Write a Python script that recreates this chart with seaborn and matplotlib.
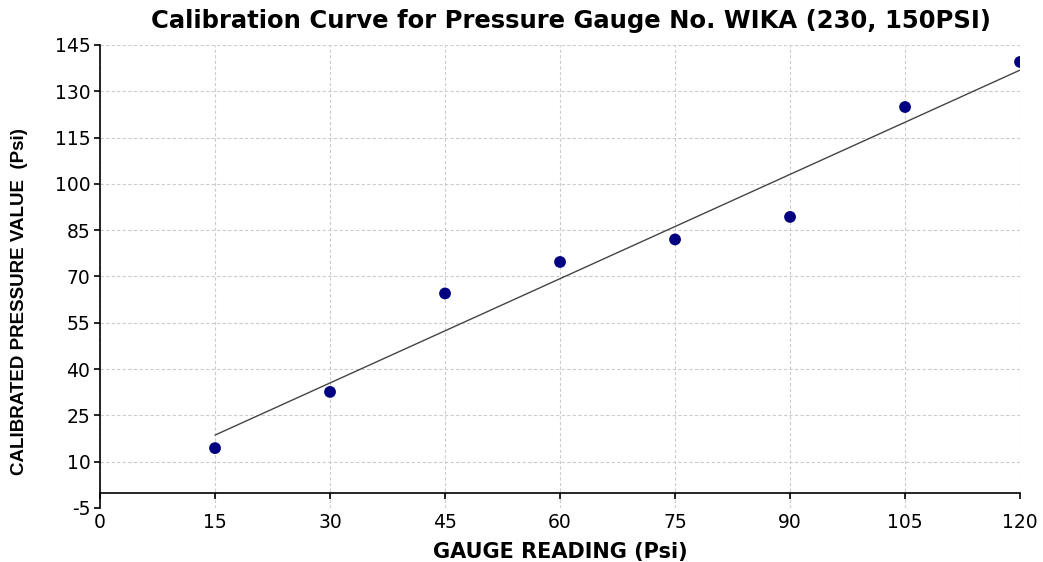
import numpy as np
import pandas as pd
import seaborn as sns
import matplotlib.pyplot as plt

# gauge readings and calibrated values
gauge_reading = [15, 30, 45, 60, 75, 90, 105, 120]
calibrated_value = [14.4, 32.6, 64.5, 74.7, 82.0, 89.3, 124.9, 139.5]
x_ticks = list(range(0, 121, 15))
y_ticks = list(range(-5, 146, 15))

df = pd.DataFrame({"gauge": gauge_reading, "calibrated": calibrated_value})

sns.set_style("white")
plt.rcParams['font.family'] = ['DejaVu Sans']
plt.rcParams['axes.unicode_minus'] = False
plt.rcParams['text.color'] = 'black'
plt.rcParams['axes.labelcolor'] = 'black'

fig = plt.figure(figsize=(10.43, 5.62), dpi=100)
ax = fig.add_axes([0.0959, 0.0961, 0.978 - 0.0959, 0.920 - 0.0961])

# fitted line plus points
sns.regplot(x="gauge", y="calibrated", data=df, ci=None, ax=ax,
            scatter_kws={"s": 72, "color": "#000080", "alpha": 1.0,
                         "edgecolor": "none", "zorder": 4},
            line_kws={"color": "#444444", "linewidth": 1.0, "zorder": 3})

ax.set_xlim(0, 120)
ax.set_ylim(-5, 145)
ax.set_xticks(x_ticks)
ax.set_yticks(y_ticks)
ax.grid(True, linestyle=(0, (3, 2)), color="#cccccc", linewidth=0.8)
ax.set_axisbelow(True)

for side in ["top", "right"]:
    ax.spines[side].set_visible(False)
ax.spines["bottom"].set_position(("data", 0))
for side in ["left", "bottom"]:
    ax.spines[side].set_color("black")
    ax.spines[side].set_linewidth(1.2)

ax.tick_params(axis="both", direction="out", length=4, width=1.2,
               colors="black", labelsize=13.5)
ax.tick_params(axis="x", pad=11)
ax.tick_params(axis="y", pad=3)
ax.xaxis.set_ticks_position("bottom")
ax.yaxis.set_ticks_position("left")

ax.set_title("Calibration Curve for Pressure Gauge No. WIKA (230, 150PSI)",
             fontsize=17.5, fontweight="bold", pad=12, x=0.512, color="black")
ax.set_xlabel("GAUGE READING (Psi)", fontsize=15, fontweight="bold", labelpad=7)
ax.set_ylabel("CALIBRATED PRESSURE VALUE  (Psi)", fontsize=13.5, fontweight="bold",
              family=['Liberation Sans', 'DejaVu Sans'])
ax.yaxis.set_label_coords(-0.078, 0.445)

fig.savefig("out.png", dpi=100, facecolor="white")
